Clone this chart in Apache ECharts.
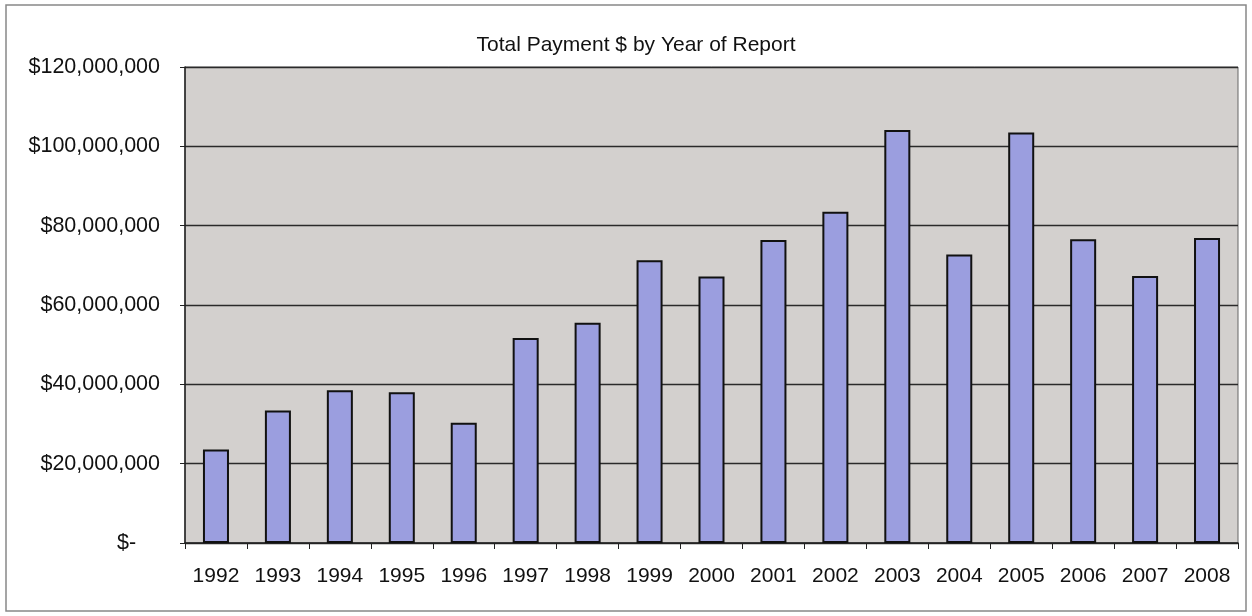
<!DOCTYPE html>
<html><head><meta charset="utf-8">
<script src="https://cdn.jsdelivr.net/npm/echarts@6/dist/echarts.min.js"></script>
<style>html,body{margin:0;padding:0;background:#fff}#c{width:1252px;height:616px}</style>
</head><body><div id="c"></div>
<script>
const years = ['1992','1993','1994','1995','1996','1997','1998','1999','2000','2001','2002','2003','2004','2005','2006','2007','2008'];
const payments = [23600000,33400000,38500000,38000000,30300000,51700000,55500000,71300000,67200000,76400000,83500000,104100000,72700000,103500000,76600000,67300000,76900000];
const yTicks = [0,20000000,40000000,60000000,80000000,100000000,120000000];
const titleText = 'Total Payment $ by Year of Report';

const chart = echarts.init(document.getElementById('c'));
chart.setOption({
  animation:false,
  backgroundColor:'#ffffff',
  graphic:[{type:'rect',shape:{x:6,y:5,width:1240,height:606},style:{fill:'none',stroke:'#888',lineWidth:1.5},silent:true}],
  title:{text:titleText,left:631,top:30,textAlign:'center',textStyle:{fontFamily:'Liberation Sans, Arial',fontSize:21,fontWeight:'normal',color:'#111'}},
  grid:{left:185,right:14,top:67,bottom:73,show:true,backgroundColor:'#d3d0ce',borderColor:'#666',borderWidth:1},
  xAxis:{type:'category',data:years,
    axisLine:{lineStyle:{color:'#222',width:1.5}},
    axisTick:{show:true,alignWithLabel:false,length:6,lineStyle:{color:'#222'}},
    axisLabel:{fontFamily:'Liberation Sans, Arial',fontSize:21,color:'#111',margin:23}},
  yAxis:{type:'value',min:0,max:120000000,interval:20000000,
    axisLine:{show:true,lineStyle:{color:'#222',width:1.5}},
    axisTick:{show:true,length:5,lineStyle:{color:'#222'}},
    splitLine:{show:true,lineStyle:{color:'#2a2a2a',width:1.3}},
    axisLabel:{fontFamily:'Liberation Sans, Arial',fontSize:21.5,color:'#111',margin:25,
      formatter:function(v){ if(v===0) return '$-    '; return '$'+v.toLocaleString('en-US'); }}},
  series:[{type:'bar',data:payments,barWidth:'42%',
    itemStyle:{color:'#9b9edf',borderColor:'#111',borderWidth:2}}]
});
</script></body></html>
